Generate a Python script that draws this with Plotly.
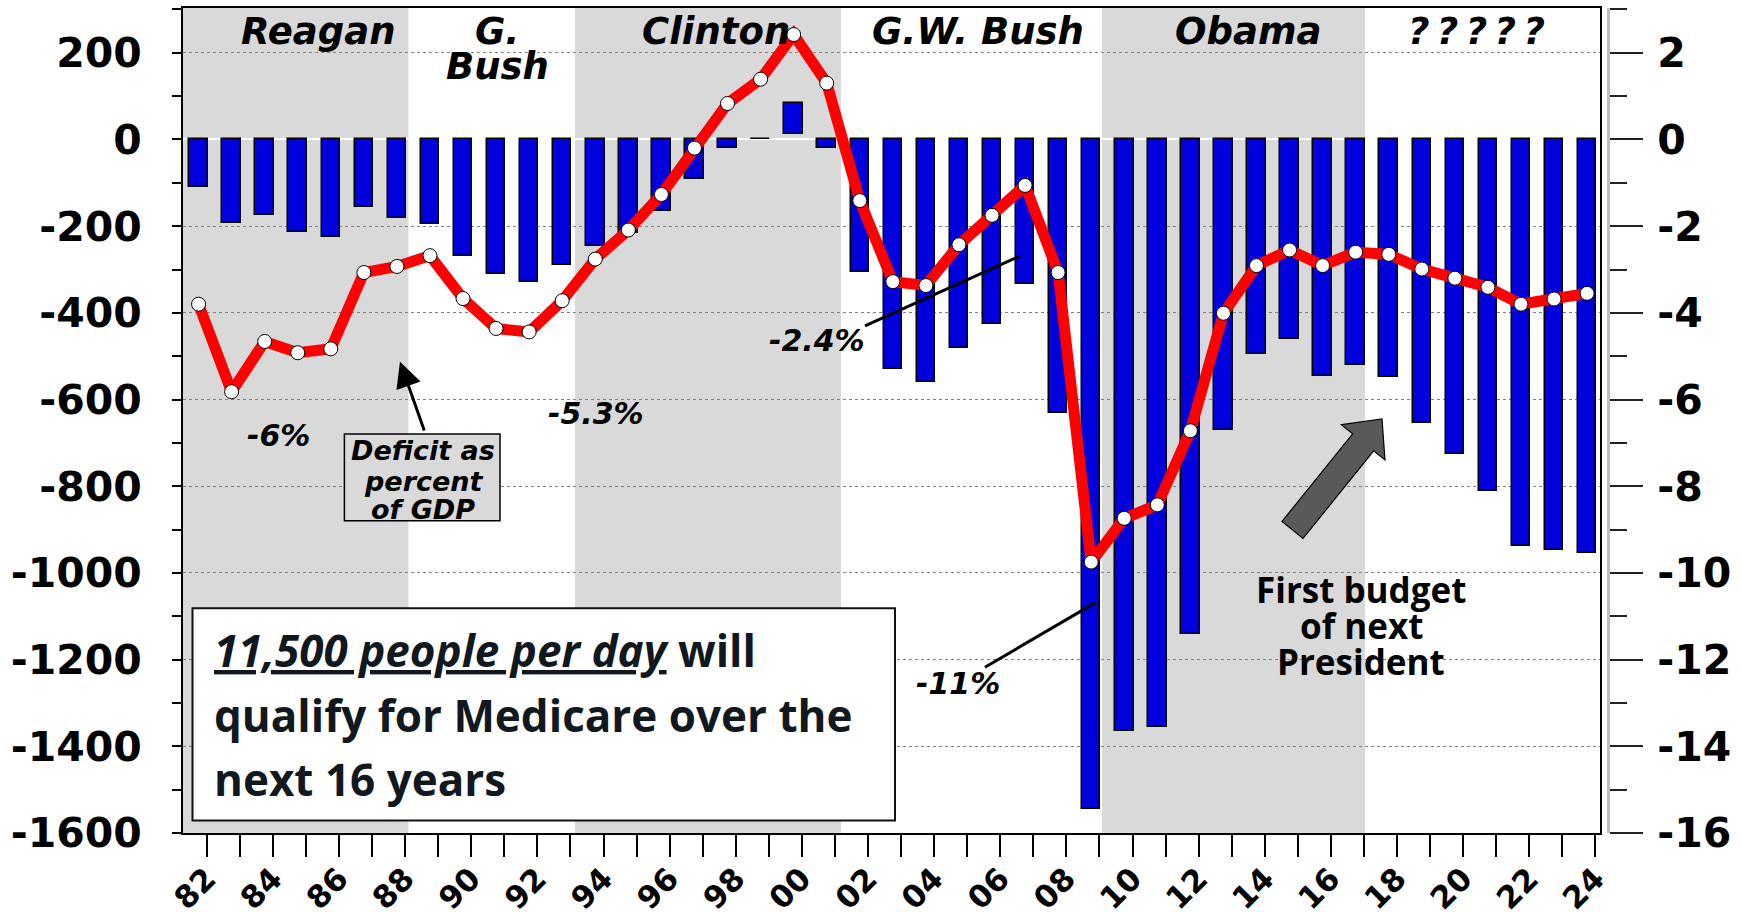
import math
import plotly.graph_objects as go

# ---------------- data ----------------
years = list(range(1982, 2025))
# federal budget balance, $ billions (bar end values, left axis)
deficit_bn = [-109, -193, -174, -213, -224, -156, -182, -194, -268, -310,
              -328, -290, -246, -216, -164, -91, -19, 0, 85, -19,
              -306, -529, -559, -482, -426, -333, -632, -1544, -1364, -1355,
              -1141, -670, -495, -461, -546, -520, -549, -653, -725, -812,
              -937, -948, -953]
# where each bar starts (the 2000 bar floats slightly above zero in the original)
bar_base = [0] * 18 + [12] + [0] * 24
# deficit as percent of GDP (right axis)
deficit_pct = [-3.80, -5.82, -4.66, -4.92, -4.83, -3.07, -2.93, -2.68, -3.67, -4.36,
               -4.44, -3.72, -2.76, -2.09, -1.27, -0.20, 0.83, 1.39, 2.42, 1.30,
               -1.41, -3.28, -3.37, -2.43, -1.75, -1.06, -3.07, -9.75, -8.74, -8.43,
               -6.72, -4.01, -2.91, -2.55, -2.91, -2.60, -2.65, -2.99, -3.20, -3.41,
               -3.80, -3.68, -3.55]
x_tick_labels = [("%02d" % (y % 100)) if y % 2 == 0 else "" for y in years]
left_ticks = list(range(-1600, 201, 200))
left_tick_labels = [str(v) for v in left_ticks]
right_ticks = list(range(-16, 3, 2))
right_tick_labels = [str(v) for v in right_ticks]

# presidential terms (shaded alternately)
term_names = ["Reagan", "G.", "Clinton", "G.W. Bush", "Obama", "\u2009".join("?????")]
term_bounds = [1981.53, 1988.35, 1993.39, 2001.43, 2009.33, 2017.28, 2024.39]
term_shaded = [True, False, True, False, True, False]

# ---------------- geometry helpers (reference pixel -> data) ----------------
FIG_W, FIG_H = 1741, 912
PL, PR, PT, PB = 183, 1600, 8, 833.1
AX2 = 1608
XR = [term_bounds[0], term_bounds[-1]]
YR = [-1600, 303.3]


def dx(px):
    return XR[0] + (px - PL) * (XR[1] - XR[0]) / (PR - PL)


def dy(py):
    return YR[1] - (py - PT) * (YR[1] - YR[0]) / (PB - PT)


BIG = dict(family="DejaVu Sans", size=41, color="black", weight="bold")
BI = lambda s: dict(family="DejaVu Sans", size=s, color="black", weight="bold", style="italic")
CAL = lambda s, c="#111820": dict(family="Open Sans", size=s, color=c, weight="bold")

fig = go.Figure()

fig.add_trace(go.Bar(
    x=years, y=[d - b for d, b in zip(deficit_bn, bar_base)], base=bar_base,
    width=0.56, marker=dict(color="#0000dc", line=dict(color="black", width=1.5)),
    yaxis="y", hoverinfo="skip"))

fig.add_trace(go.Scatter(
    x=years, y=deficit_pct, yaxis="y2", mode="lines+markers",
    line=dict(color="#ff0000", width=11),
    marker=dict(color="white", size=14, line=dict(color="black", width=1)),
    hoverinfo="skip"))

shapes = []
for i, sh in enumerate(term_shaded):
    if sh:
        shapes.append(dict(type="rect", xref="x", yref="paper",
                           x0=term_bounds[i], x1=term_bounds[i + 1], y0=0, y1=1,
                           fillcolor="#d9d9d9", line=dict(width=0), layer="below"))

# "Deficit as percent of GDP" box
shapes.append(dict(type="rect", xref="x", yref="y", x0=dx(344.4), x1=dx(500),
                   y0=dy(434), y1=dy(520.7), fillcolor="#d9d9d9",
                   line=dict(color="black", width=1.5)))
# text box
shapes.append(dict(type="rect", xref="x", yref="y", x0=dx(192.5), x1=dx(895),
                   y0=dy(608.3), y1=dy(820.7), fillcolor="white",
                   line=dict(color="#111111", width=2)))
# pointer lines
shapes.append(dict(type="line", xref="x", yref="y", x0=dx(865), y0=dy(326),
                   x1=dx(1020), y1=dy(256), line=dict(color="black", width=3)))
shapes.append(dict(type="line", xref="x", yref="y", x0=dx(985), y0=dy(667.3),
                   x1=dx(1095.5), y1=dy(602.7), line=dict(color="black", width=3)))

# big gray block arrow
bx, by, tx, ty = 1292.5, 530.0, 1382.0, 419.0
L = math.hypot(tx - bx, ty - by)
ux, uy = (tx - bx) / L, (ty - by) / L
nx, ny = -uy, ux
sw, hw, hl = 13.5, 28.0, 30.0
hx, hy = tx - hl * ux, ty - hl * uy
pts = [(bx + sw * nx, by + sw * ny), (hx + sw * nx, hy + sw * ny), (hx + hw * nx, hy + hw * ny),
       (tx, ty), (hx - hw * nx, hy - hw * ny), (hx - sw * nx, hy - sw * ny),
       (bx - sw * nx, by - sw * ny)]
path = "M " + " L ".join("%f,%f" % (dx(p[0]), dy(p[1])) for p in pts) + " Z"
shapes.append(dict(type="path", xref="x", yref="y", path=path,
                   fillcolor="#595959", line=dict(color="black", width=1.2)))

ann = []
label_px = [318, 497, 716, 978, 1248, 1476]
for name, px in zip(term_names, label_px):
    ann.append(dict(x=dx(px), y=dy(31), xref="x", yref="y", text=name, showarrow=False,
                    font=BI(37), xanchor="center", yanchor="middle"))
ann.append(dict(x=dx(497), y=dy(67), xref="x", yref="y", text="Bush", showarrow=False,
                font=BI(37), xanchor="center", yanchor="middle"))

for txt, px, py in [("-6%", 278, 436), ("-5.3%", 596, 414), ("-2.4%", 817, 341), ("-11%", 958, 684)]:
    ann.append(dict(x=dx(px), y=dy(py), xref="x", yref="y", text=txt, showarrow=False,
                    font=BI(30), xanchor="center", yanchor="middle"))

for txt, py in [("Deficit as", 451), ("percent", 482), ("of GDP", 510)]:
    ann.append(dict(x=dx(423), y=dy(py), xref="x", yref="y", text=txt, showarrow=False,
                    font=BI(27), xanchor="center", yanchor="middle"))

ann.append(dict(x=dx(400), y=dy(361.7), ax=dx(424.8), ay=dy(432), xref="x", yref="y",
                axref="x", ayref="y", text="", showarrow=True, arrowhead=2,
                arrowsize=1.7, arrowwidth=3, arrowcolor="black"))

ann.append(dict(x=dx(212), y=dy(650), xref="x", yref="y", showarrow=False,
                text='<span style="text-decoration:underline"><i>11,500 people per day</i></span> will',
                font=CAL(44), xanchor="left", yanchor="middle"))
ann.append(dict(x=dx(212), y=dy(715), xref="x", yref="y", showarrow=False,
                text="qualify for Medicare over the", font=CAL(44), xanchor="left", yanchor="middle"))
ann.append(dict(x=dx(212), y=dy(779), xref="x", yref="y", showarrow=False,
                text="next 16 years", font=CAL(44), xanchor="left", yanchor="middle"))

for txt, py in [("First budget", 590), ("of next", 626), ("President", 662)]:
    ann.append(dict(x=dx(1361), y=dy(py), xref="x", yref="y", text=txt, showarrow=False,
                    font=CAL(35, "black"), xanchor="center", yanchor="middle"))

fig.update_layout(
    width=FIG_W, height=FIG_H, autosize=False,
    margin=dict(l=PL, r=FIG_W - AX2, t=PT, b=round(FIG_H - PB), pad=0),
    paper_bgcolor="white", plot_bgcolor="white", showlegend=False, bargap=0,
    xaxis=dict(domain=[0, (PR - PL) / (AX2 - PL)], range=XR, tickmode="array",
               tickvals=[y + 0.25 for y in years], ticktext=x_tick_labels, tickangle=-45,
               ticks="outside", ticklen=22, tickwidth=2, tickcolor="black",
               showline=True, mirror=True, linecolor="black", linewidth=2,
               showgrid=False, zeroline=False, automargin=False,
               tickfont=dict(family="DejaVu Sans", size=31, color="black", weight="bold"),
               ticklabelstandoff=-9),
    yaxis=dict(range=YR, tickmode="array", tickvals=left_ticks, ticktext=left_tick_labels,
               ticks="outside", ticklen=9, tickwidth=1.5, tickcolor="black",
               minor=dict(tickmode="linear", dtick=100, tick0=0, ticks="outside", ticklen=9,
                          tickcolor="black", tickwidth=1.5, showgrid=False),
               showgrid=True, gridcolor="#808080", griddash="dot", gridwidth=1,
               zeroline=True, zerolinecolor="white", zerolinewidth=1.5,
               showline=True, mirror=True, linecolor="black", linewidth=2,
               automargin=False, tickfont=BIG, ticklabelstandoff=22),
    yaxis3=dict(range=YR, overlaying="y", side="left", anchor="x", tickmode="linear", tick0=0,
                dtick=200, ticks="inside", ticklen=20, tickwidth=1.5, tickcolor="black",
                minor=dict(dtick=100, tick0=0, ticks="inside", ticklen=7, tickcolor="black",
                           tickwidth=1.5),
                showticklabels=False, showgrid=False, zeroline=False, showline=False,
                automargin=False),
    yaxis2=dict(range=[YR[0] / 100, YR[1] / 100], overlaying="y", side="right", anchor="free",
                position=1, tickmode="array", tickvals=right_ticks, ticktext=right_tick_labels,
                ticks="outside", ticklen=33, tickwidth=1.5, tickcolor="#222222",
                minor=dict(tickmode="linear", dtick=1, tick0=0, ticks="outside", ticklen=17,
                           tickcolor="#222222", tickwidth=1.5),
                showline=True, linecolor="#bfbfbf", linewidth=3, showgrid=False, zeroline=False,
                automargin=False, tickfont=BIG, ticklabelstandoff=6),
    shapes=shapes, annotations=ann,
)

fig.write_html("out.html", config={"displayModeBar": False},
               post_script="document.body.style.margin='0';document.body.style.overflow='hidden';")
